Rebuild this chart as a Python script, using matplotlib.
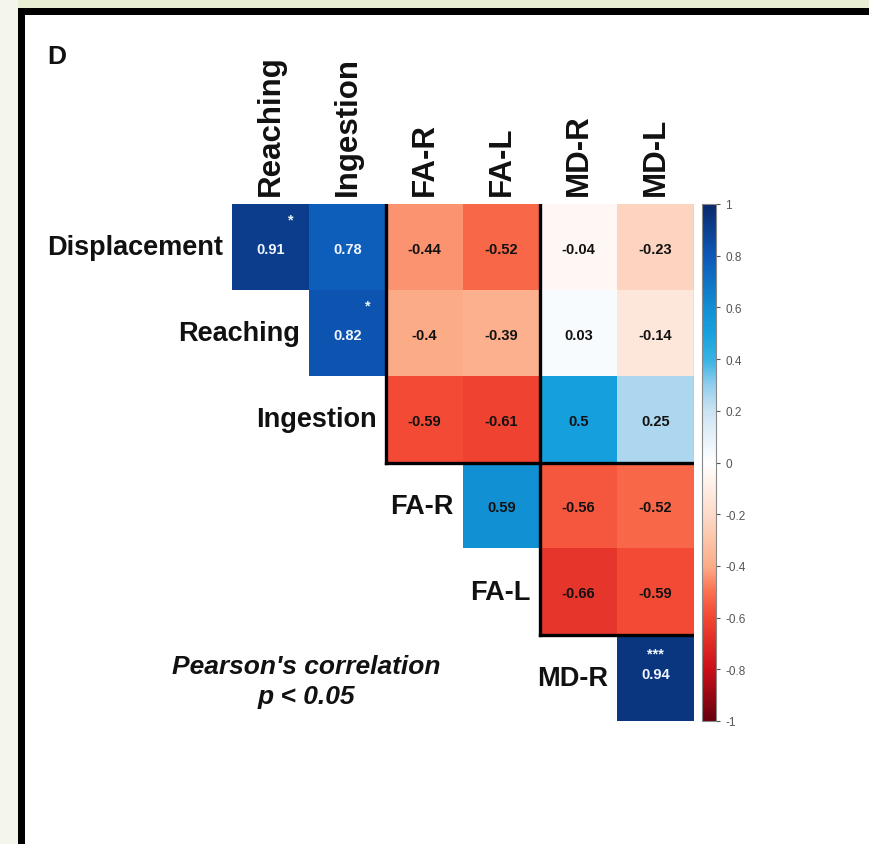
import numpy as np
import matplotlib
matplotlib.use("Agg")
import matplotlib.pyplot as plt
from matplotlib.colors import LinearSegmentedColormap
from matplotlib.patches import Rectangle

plt.rcParams['font.family'] = ['Liberation Sans', 'DejaVu Sans']

# ---- data ----
row_labels = ["Displacement", "Reaching", "Ingestion", "FA-R", "FA-L", "MD-R"]
col_labels = ["Reaching", "Ingestion", "FA-R", "FA-L", "MD-R", "MD-L"]
nan = np.nan
r_displacement = [0.91, 0.78, -0.44, -0.52, -0.04, -0.23]
r_reaching     = [nan, 0.82, -0.40, -0.39, 0.03, -0.14]
r_ingestion    = [nan, nan, -0.59, -0.61, 0.50, 0.25]
r_fa_r         = [nan, nan, nan, 0.59, -0.56, -0.52]
r_fa_l         = [nan, nan, nan, nan, -0.66, -0.59]
r_md_r         = [nan, nan, nan, nan, nan, 0.94]
sig_displacement = ["*", "", "", "", "", ""]
sig_reaching     = ["", "*", "", "", "", ""]
sig_md_r         = ["", "", "", "", "", "***"]
cbar_ticks = [1, 0.8, 0.6, 0.4, 0.2, 0, -0.2, -0.4, -0.6, -0.8, -1]

M = np.array([r_displacement, r_reaching, r_ingestion, r_fa_r, r_fa_l, r_md_r])
S = [sig_displacement, sig_reaching, [""] * 6, [""] * 6, [""] * 6, sig_md_r]

# ---- colormap ----
nodes = [(0.00, (0.40, 0.00, 0.05)),
         (0.10, (0.80, 0.06, 0.10)),
         (0.20, (0.95, 0.28, 0.20)),
         (0.25, (0.98, 0.44, 0.31)),
         (0.30, (0.99, 0.68, 0.54)),
         (0.40, (0.99, 0.86, 0.79)),
         (0.50, (1.00, 1.00, 1.00)),
         (0.60, (0.80, 0.89, 0.95)),
         (0.65, (0.58, 0.81, 0.93)),
         (0.70, (0.22, 0.70, 0.89)),
         (0.75, (0.09, 0.63, 0.87)),
         (0.80, (0.07, 0.56, 0.83)),
         (0.90, (0.05, 0.35, 0.72)),
         (1.00, (0.04, 0.16, 0.42))]
cmap = LinearSegmentedColormap.from_list("corr", nodes)

W, H = 869, 845
fig = plt.figure(figsize=(W / 100, H / 100), dpi=100)
fig.patch.set_facecolor("white")

# frame decoration
fig.add_artist(Rectangle((0, 1 - 9 / H), 1, 9 / H, transform=fig.transFigure,
                         facecolor="#e8eed3", edgecolor="none"))
fig.add_artist(Rectangle((0, 0), 18 / W, 1, transform=fig.transFigure,
                         facecolor="#f4f6ec", edgecolor="none"))
fig.add_artist(Rectangle((18 / W, 1 - 16 / H), 1, 7 / H, transform=fig.transFigure,
                         facecolor="black", edgecolor="none"))
fig.add_artist(Rectangle((18 / W, 0), 7 / W, 1 - 9 / H, transform=fig.transFigure,
                         facecolor="black", edgecolor="none"))

ax = fig.add_axes([232 / W, 1 - 722 / H, (694 - 232) / W, (722 - 205) / H])
im = ax.imshow(np.ma.masked_invalid(M), cmap=cmap, vmin=-1, vmax=1, aspect="auto",
               extent=(-0.5, 5.5, 5.5, -0.5), interpolation="nearest")
ax.set_xlim(-0.5, 5.5)
ax.set_ylim(5.5, -0.5)
ax.axis("off")

n = len(row_labels)
for i in range(n):
    first = i
    ax.text(first - 0.5 - 0.12, i, row_labels[i], ha="right", va="center",
            fontsize=19.5, fontweight="bold", color="#111111", clip_on=False)
    for j in range(n):
        v = M[i, j]
        if np.isnan(v):
            continue
        tc = "#f2f6ff" if v > 0.7 else "#111111"
        star = S[i][j]
        if star == "***":
            ax.text(j, i - 0.28, star, ha="center", va="center", fontsize=10.5,
                    fontweight="bold", color=tc)
            ax.text(j, i - 0.05, f"{v:g}", ha="center", va="center", fontsize=10.5,
                    fontweight="bold", color=tc)
        else:
            ax.text(j, i + 0.02, f"{v:g}", ha="center", va="center", fontsize=10.5,
                    fontweight="bold", color=tc)
            if star:
                ax.text(j + 0.27, i - 0.32, star, ha="center", va="center",
                        fontsize=10.5, fontweight="bold", color=tc)

for j, lab in enumerate(col_labels):
    ax.text(j, -0.5 - 0.1, lab, rotation=90, ha="center", va="bottom",
            fontsize=22.5, fontweight="bold", color="#111111", clip_on=False)

# group separators
lw = 2.4
ax.plot([1.5, 1.5], [-0.5, 2.5], color="black", lw=lw, solid_capstyle="projecting")
ax.plot([3.5, 3.5], [-0.5, 4.5], color="black", lw=lw, solid_capstyle="projecting")
ax.plot([1.5, 5.5], [2.5, 2.5], color="black", lw=lw, solid_capstyle="projecting")
ax.plot([3.5, 5.5], [4.5, 4.5], color="black", lw=lw, solid_capstyle="projecting")
ax.plot([5.5, 5.5], [-0.5, 5.5], color="#777777", lw=0.8)

# colorbar
cax = fig.add_axes([702 / W, 1 - 722 / H, 14 / W, (722 - 205) / H])
cb = fig.colorbar(im, cax=cax, ticks=cbar_ticks)
cb.ax.set_yticklabels([f"{t:g}" for t in cbar_ticks])
cb.ax.tick_params(labelsize=8.5, colors="#555555", length=3, width=0.8)
cb.outline.set_edgecolor("#888888")
cb.outline.set_linewidth(0.8)

fig.text(306 / W, 1 - 667 / H, "Pearson's correlation", ha="center", va="center",
         fontsize=19, fontweight="bold", fontstyle="italic", color="#111111")
fig.text(306 / W, 1 - 697 / H, "p < 0.05", ha="center", va="center",
         fontsize=19, fontweight="bold", fontstyle="italic", color="#111111")

fig.text(47 / W, 1 - 57 / H, "D", ha="left", va="center", fontsize=19,
         fontweight="bold", color="#111111")

fig.savefig("out.png", dpi=100, facecolor=fig.get_facecolor())
